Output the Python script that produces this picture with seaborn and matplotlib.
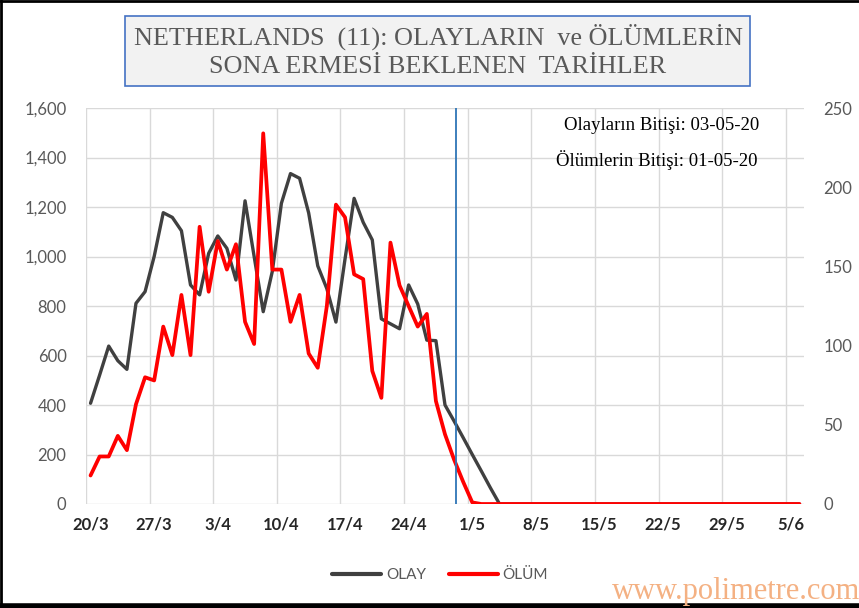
import matplotlib
matplotlib.use("Agg")
import matplotlib.pyplot as plt
import seaborn as sns
import pandas as pd
from matplotlib.patches import Rectangle
from matplotlib.lines import Line2D

# daily values, 20/3/2020 .. 6/6/2020 (79 days)
olay = [407, 521, 638, 579, 544, 811, 858, 1000, 1177, 1158,
        1104, 885, 845, 1013, 1083, 1033, 905, 1225, 1000, 777,
        940, 1215, 1335, 1316, 1176, 962, 870, 735, 990, 1235,
        1138, 1067, 748, 728, 708, 885, 808, 662, 660, 400,
        335, 268, 200, 133, 65, 0, 0, 0, 0, 0,
        0, 0, 0, 0, 0, 0, 0, 0, 0, 0,
        0, 0, 0, 0, 0, 0, 0, 0, 0, 0,
        0, 0, 0, 0, 0, 0, 0, 0, 0]
olum = [18, 30, 30, 43, 34, 63, 80, 78, 112, 94,
        132, 94, 175, 134, 166, 148, 164, 115, 101, 234,
        148, 148, 115, 132, 95, 86, 125, 189, 181, 145,
        142, 84, 67, 165, 138, 125, 112, 120, 65, 44,
        28, 14, 1, 0, 0, 0, 0, 0, 0, 0,
        0, 0, 0, 0, 0, 0, 0, 0, 0, 0,
        0, 0, 0, 0, 0, 0, 0, 0, 0, 0,
        0, 0, 0, 0, 0, 0, 0, 0, 0]
xlabels = ["20/3", "27/3", "3/4", "10/4", "17/4", "24/4",
           "1/5", "8/5", "15/5", "22/5", "29/5", "5/6"]
today_mark = 40.25  # position of the blue marker line (day index)

df = pd.DataFrame({"day": range(len(olay)), "OLAY": olay, "OLUM": olum})

sns.set_style("white")
plt.rcParams["font.family"] = ["Lato", "DejaVu Sans"]

W, H = 859, 608
fig = plt.figure(figsize=(W / 100, H / 100), dpi=100)
ax = fig.add_axes([86 / W, 1 - 504 / H, (804 - 86) / W, (504 - 108) / H])

sns.lineplot(data=df, x="day", y="OLAY", ax=ax, color="#404040", lw=2.4, legend=False)
ax2 = ax.twinx()
sns.lineplot(data=df, x="day", y="OLUM", ax=ax2, color="#ff0000", lw=2.7, legend=False)

ax.set_xlim(-0.5, len(olay) - 0.5)
ax.set_ylim(0, 1600)
ax2.set_ylim(0, 250)

ax.set_yticks(range(0, 1601, 200))
ax.set_yticklabels([f"{v:,}" for v in range(0, 1601, 200)])
ax2.set_yticks(range(0, 251, 50))

ax.set_xticks([7 * k for k in range(len(xlabels))])
ax.set_xticklabels(xlabels, fontweight="bold")
ax.set_xticks([7 * k - 0.5 for k in range(len(xlabels))], minor=True)

ax.grid(axis="y", color="#d9d9d9", lw=1)
ax.grid(axis="x", which="minor", color="#d9d9d9", lw=1)
ax.grid(axis="x", which="major", visible=False)
ax.set_axisbelow(True)

ax.tick_params(axis="x", which="major", length=0, pad=9, labelsize=12, labelcolor="#262626")
ax.tick_params(axis="x", which="minor", length=4, color="#d9d9d9", direction="out")
ax.tick_params(axis="y", length=0, pad=14, labelsize=12, labelcolor="#595959")
ax2.tick_params(axis="y", length=0, pad=14, labelsize=12, labelcolor="#595959")

for a in (ax, ax2):
    for s in a.spines.values():
        s.set_visible(False)
    a.set_xlabel("")
    a.set_ylabel("")

ax2.axvline(today_mark, ymin=0, ymax=1, color="#2e75b6", lw=1.3)

# annotations
fig.text(662 / W, 1 - 125 / H, "Olayların Bitişi: 03-05-20", family="Liberation Serif",
         fontsize=13.5, ha="center", va="center", color="black")
fig.text(657 / W, 1 - 160 / H, "Ölümlerin Bitişi: 01-05-20", family="Liberation Serif",
         fontsize=13.5, ha="center", va="center", color="black")

# title box
fig.patches.append(Rectangle((125 / W, 1 - 86 / H), (750 - 125) / W, (86 - 16) / H,
                             transform=fig.transFigure, facecolor="#f2f2f2",
                             edgecolor="#4472c4", lw=1.2))
fig.text(438 / W, 1 - 51 / H,
         "NETHERLANDS  (11): OLAYLARIN  ve ÖLÜMLERİN\nSONA ERMESİ BEKLENEN  TARİHLER",
         family="Liberation Serif", fontsize=18.8, ha="center", va="center",
         color="#595959", linespacing=1.35)

# legend
handles = [Line2D([], [], color="#404040", lw=3), Line2D([], [], color="#ff0000", lw=3)]
fig.legend(handles, ["OLAY", "ÖLÜM"], loc="center", bbox_to_anchor=(440 / W, 1 - 575 / H),
           ncol=2, frameon=False, fontsize=11, labelcolor="#595959",
           handlelength=3.2, handletextpad=0.3, columnspacing=1.5)

# watermark
fig.text(612 / W, 1 - 591 / H, "www.polimetre.com", family="Liberation Serif",
         fontsize=22, color="#f4b183", ha="left", va="center")

# outer border
for xs, ys, lw in [([0, 1], [0.999, 0.999], 2), ([0.001, 0.001], [0, 1], 2),
                   ([0, 1], [2 / H, 2 / H], 4)]:
    fig.lines.append(Line2D(xs, ys, transform=fig.transFigure, color="black", lw=lw))

fig.savefig("out.png", dpi=100)
